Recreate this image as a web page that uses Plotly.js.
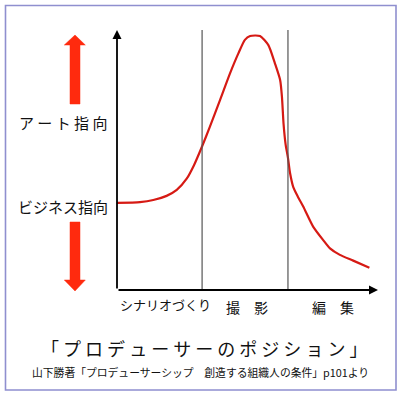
<!DOCTYPE html>
<html>
<head>
<meta charset="utf-8">
<script src="https://cdn.plot.ly/plotly-3.0.1.min.js"></script>
<style>
html,body{margin:0;padding:0;background:#fff;}
#chart{width:402px;height:395px;}
</style>
</head>
<body>
<div id="chart"></div>
<script>
// Position along the production process (0-100) and "art orientation" level (0-100)
const processX = [0, 8.8, 13.9, 19.0, 22.9, 26.7, 29.5, 32.5, 35.6, 39.5, 43.3, 46.5, 49.0, 51.0, 54.8, 58.0, 60.5, 62.5, 63.2, 63.8, 64.6, 65.5, 66.3, 67.5, 69.3, 71.4, 75.2, 79.0, 81.6, 85.4, 90.5, 96.7];
const artLevel = [33.5, 33.8, 34.6, 36.2, 38.5, 42.8, 48.0, 55.0, 62.8, 73.1, 83.3, 91.0, 96.2, 97.7, 97.7, 94.2, 87.2, 80.8, 74.3, 64.1, 56.0, 50.8, 45.0, 39.7, 35.9, 32.0, 24.3, 19.2, 16.0, 13.5, 11.3, 8.6];
const phaseBoundaries = [32.6, 65.5];
const phaseLabels = ['シナリオづくり', '撮　影', '編　集'];
const phaseCenters = [18.4, 49.8, 82.8];
const sideLabels = ['ア ー ト 指 向', 'ビジネス指向'];
const sideLabelY = [64.6, 32.0];
const titleText = '「 プ ロ デ ュ ー サ ー の ポ ジ シ ョ ン 」';
const sourceText = '山下勝著「プロデューサーシップ　創造する組織人の条件」p101より';

const FONT = '"Noto Sans CJK JP", "Noto Sans", sans-serif';
const L = 117, R = 378, T = 30, B = 290;
const W = R - L, H = B - T;
const px = v => (v - L) / W;       // pixel x -> paper
const py = v => (B - v) / H;       // pixel y -> paper

const shapes = [];
// outer frame
shapes.push({type:'rect', xref:'paper', yref:'paper', x0:px(5.5), x1:px(396), y0:py(5.5), y1:py(390),
  line:{color:'#8f8fcf', width:1.6}, fillcolor:'rgba(0,0,0,0)', layer:'below'});
// phase separators
phaseBoundaries.forEach(b => shapes.push({type:'line', xref:'x', yref:'y', x0:b, x1:b, y0:0, y1:100.5,
  line:{color:'#555', width:1.2}}));
// red side arrows
const upArrow = `M${px(70)},${py(104)} L${px(70)},${py(45)} L${px(64.3)},${py(45)} L${px(75)},${py(35)} L${px(85.3)},${py(45)} L${px(80)},${py(45)} L${px(80)},${py(104)} Z`;
const downArrow = `M${px(70)},${py(222)} L${px(70)},${py(280)} L${px(64.3)},${py(280)} L${px(75)},${py(291)} L${px(85.3)},${py(280)} L${px(80)},${py(280)} L${px(80)},${py(222)} Z`;
[upArrow, downArrow].forEach(p => shapes.push({type:'path', xref:'paper', yref:'paper', path:p,
  fillcolor:'#ff2a0e', line:{color:'#ff2a0e', width:0.5}}));

const annotations = [];
// axes with arrowheads
annotations.push({x:0, y:100, ax:0, ay:0, xref:'x', yref:'y', axref:'x', ayref:'y', showarrow:true,
  arrowhead:2, arrowsize:1, arrowwidth:1.8, arrowcolor:'#000', text:''});
annotations.push({x:100, y:0, ax:0, ay:0, xref:'x', yref:'y', axref:'x', ayref:'y', showarrow:true,
  arrowhead:2, arrowsize:1, arrowwidth:1.8, arrowcolor:'#000', text:''});
const base = {showarrow:false, xanchor:'center', yanchor:'middle'};
// phase labels
phaseLabels.forEach((t, i) => annotations.push(Object.assign({}, base, {x:phaseCenters[i], y:py(i === 0 ? 304 : 307), xref:'x', yref:'paper',
  text:t, font:{family:FONT, size: i === 0 ? 13 : 14, color:'#111'}})));
// side labels
sideLabels.forEach((t, i) => annotations.push(Object.assign({}, base, {x:px(63), y:sideLabelY[i], xref:'paper', yref:'y',
  text:t, font:{family:FONT, size:15, color:'#111'}})));
// title and source
annotations.push(Object.assign({}, base, {x:px(204), y:py(348), xref:'paper', yref:'paper', text:titleText,
  font:{family:FONT, size:18, color:'#111'}}));
annotations.push(Object.assign({}, base, {x:px(200), y:py(372), xref:'paper', yref:'paper', text:sourceText,
  font:{family:FONT, size:10.8, color:'#111'}}));

const trace = {x:processX, y:artLevel, type:'scatter', mode:'lines',
  line:{color:'#d61a14', width:2.2, shape:'spline', smoothing:0.6}, hoverinfo:'skip'};

const layout = {
  width:402, height:395,
  margin:{l:L, r:402 - R, t:T, b:395 - B},
  paper_bgcolor:'#fff', plot_bgcolor:'#fff',
  showlegend:false,
  xaxis:{range:[0,100], showgrid:false, zeroline:false, showticklabels:false, ticks:'', showline:false, fixedrange:true},
  yaxis:{range:[0,100], showgrid:false, zeroline:false, showticklabels:false, ticks:'', showline:false, fixedrange:true},
  shapes:shapes, annotations:annotations
};
Plotly.newPlot('chart', [trace], layout, {staticPlot:true, displayModeBar:false});
</script>
</body>
</html>
